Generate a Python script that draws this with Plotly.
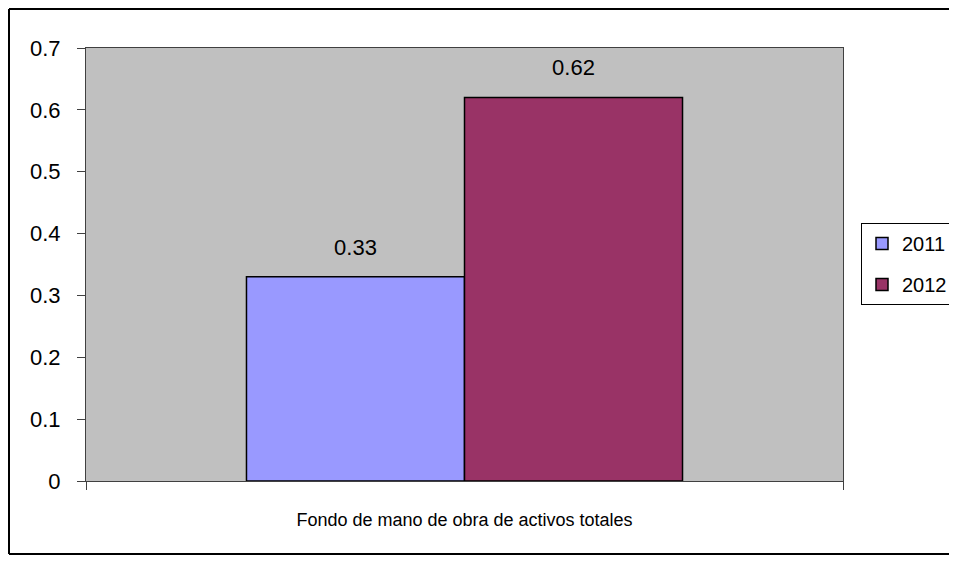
import plotly.graph_objects as go

categories = ["Fondo de mano de obra de activos totales"]
series_names = ["2011", "2012"]
values_2011 = [0.33]
values_2012 = [0.62]
bar_colors = ["#9999FF", "#993366"]
y_ticks = [0, 0.1, 0.2, 0.3, 0.4, 0.5, 0.6, 0.7]
y_ticklabels = ["0", "0.1", "0.2", "0.3", "0.4", "0.5", "0.6", "0.7"]

# the page body has an 8px margin; keep the figure small enough that no scrollbars appear
W, H = 941, 547
L, R, T, B = 78, 106, 40, 74
pw = W - L - R
ph = H - T - B

fig = go.Figure()
for name, vals, col in zip(series_names, [values_2011, values_2012], bar_colors):
    fig.add_trace(go.Bar(
        x=categories, y=vals, name=name, legendgroup=name,
        offsetgroup=name, alignmentgroup="a",
        marker=dict(color=col, line=dict(color="black", width=1.5)),
    ))
# value labels floated a bit above the bars (invisible marker gives the gap)
for name, vals in zip(series_names, [values_2011, values_2012]):
    fig.add_trace(go.Scatter(
        x=categories, y=vals, mode="markers+text", legendgroup=name,
        offsetgroup=name, alignmentgroup="a", showlegend=False,
        marker=dict(size=25, color="rgba(0,0,0,0)"),
        text=[f"{v:.2f}" for v in vals], textposition="top center",
        textfont=dict(size=22, color="black"), cliponaxis=False, hoverinfo="skip",
    ))

fig.update_layout(
    width=W, height=H,
    margin=dict(l=L, r=R, t=T, b=B, autoexpand=False),
    paper_bgcolor="white", plot_bgcolor="#C0C0C0",
    barmode="group", bargap=0.424, bargroupgap=0,
    scattermode="group", scattergap=0.424,
    font=dict(family="Liberation Sans, Arial", size=18, color="black"),
    showlegend=True,
    legend=dict(x=(853 - L) / pw, y=(H - B - 215) / ph, xanchor="left", yanchor="top",
                bordercolor="black", borderwidth=1, bgcolor="white",
                font=dict(size=20), itemwidth=30, tracegroupgap=12),
)
fig.update_yaxes(range=[0, 0.7], tickvals=y_ticks, ticktext=y_ticklabels,
                 showgrid=False, automargin=False, tickfont=dict(size=22),
                 ticks="outside", ticklen=8, tickcolor="#404040",
                 showline=True, linecolor="#404040", linewidth=1, mirror=True,
                 zeroline=False, ticklabelstandoff=12)
fig.update_xaxes(showgrid=False, automargin=False, ticks="outside", ticklen=8,
                 tickcolor="#404040", tickfont=dict(size=18),
                 tickson="boundaries", showline=True, linecolor="#404040",
                 linewidth=1, mirror=True, ticklabelstandoff=22)

# outer chart border: left, top and bottom edges (right edge runs off the picture)
for x0, y0, x1, y1 in [(1, 1, 1, 546), (1, 1, 990, 1), (1, 546, 990, 546)]:
    fig.add_shape(type="line", xref="paper", yref="paper",
                  x0=(x0 - L) / pw, x1=(x1 - L) / pw,
                  y0=(H - B - y0) / ph, y1=(H - B - y1) / ph,
                  line=dict(color="black", width=2), layer="below")

fig.write_html("out.html")
